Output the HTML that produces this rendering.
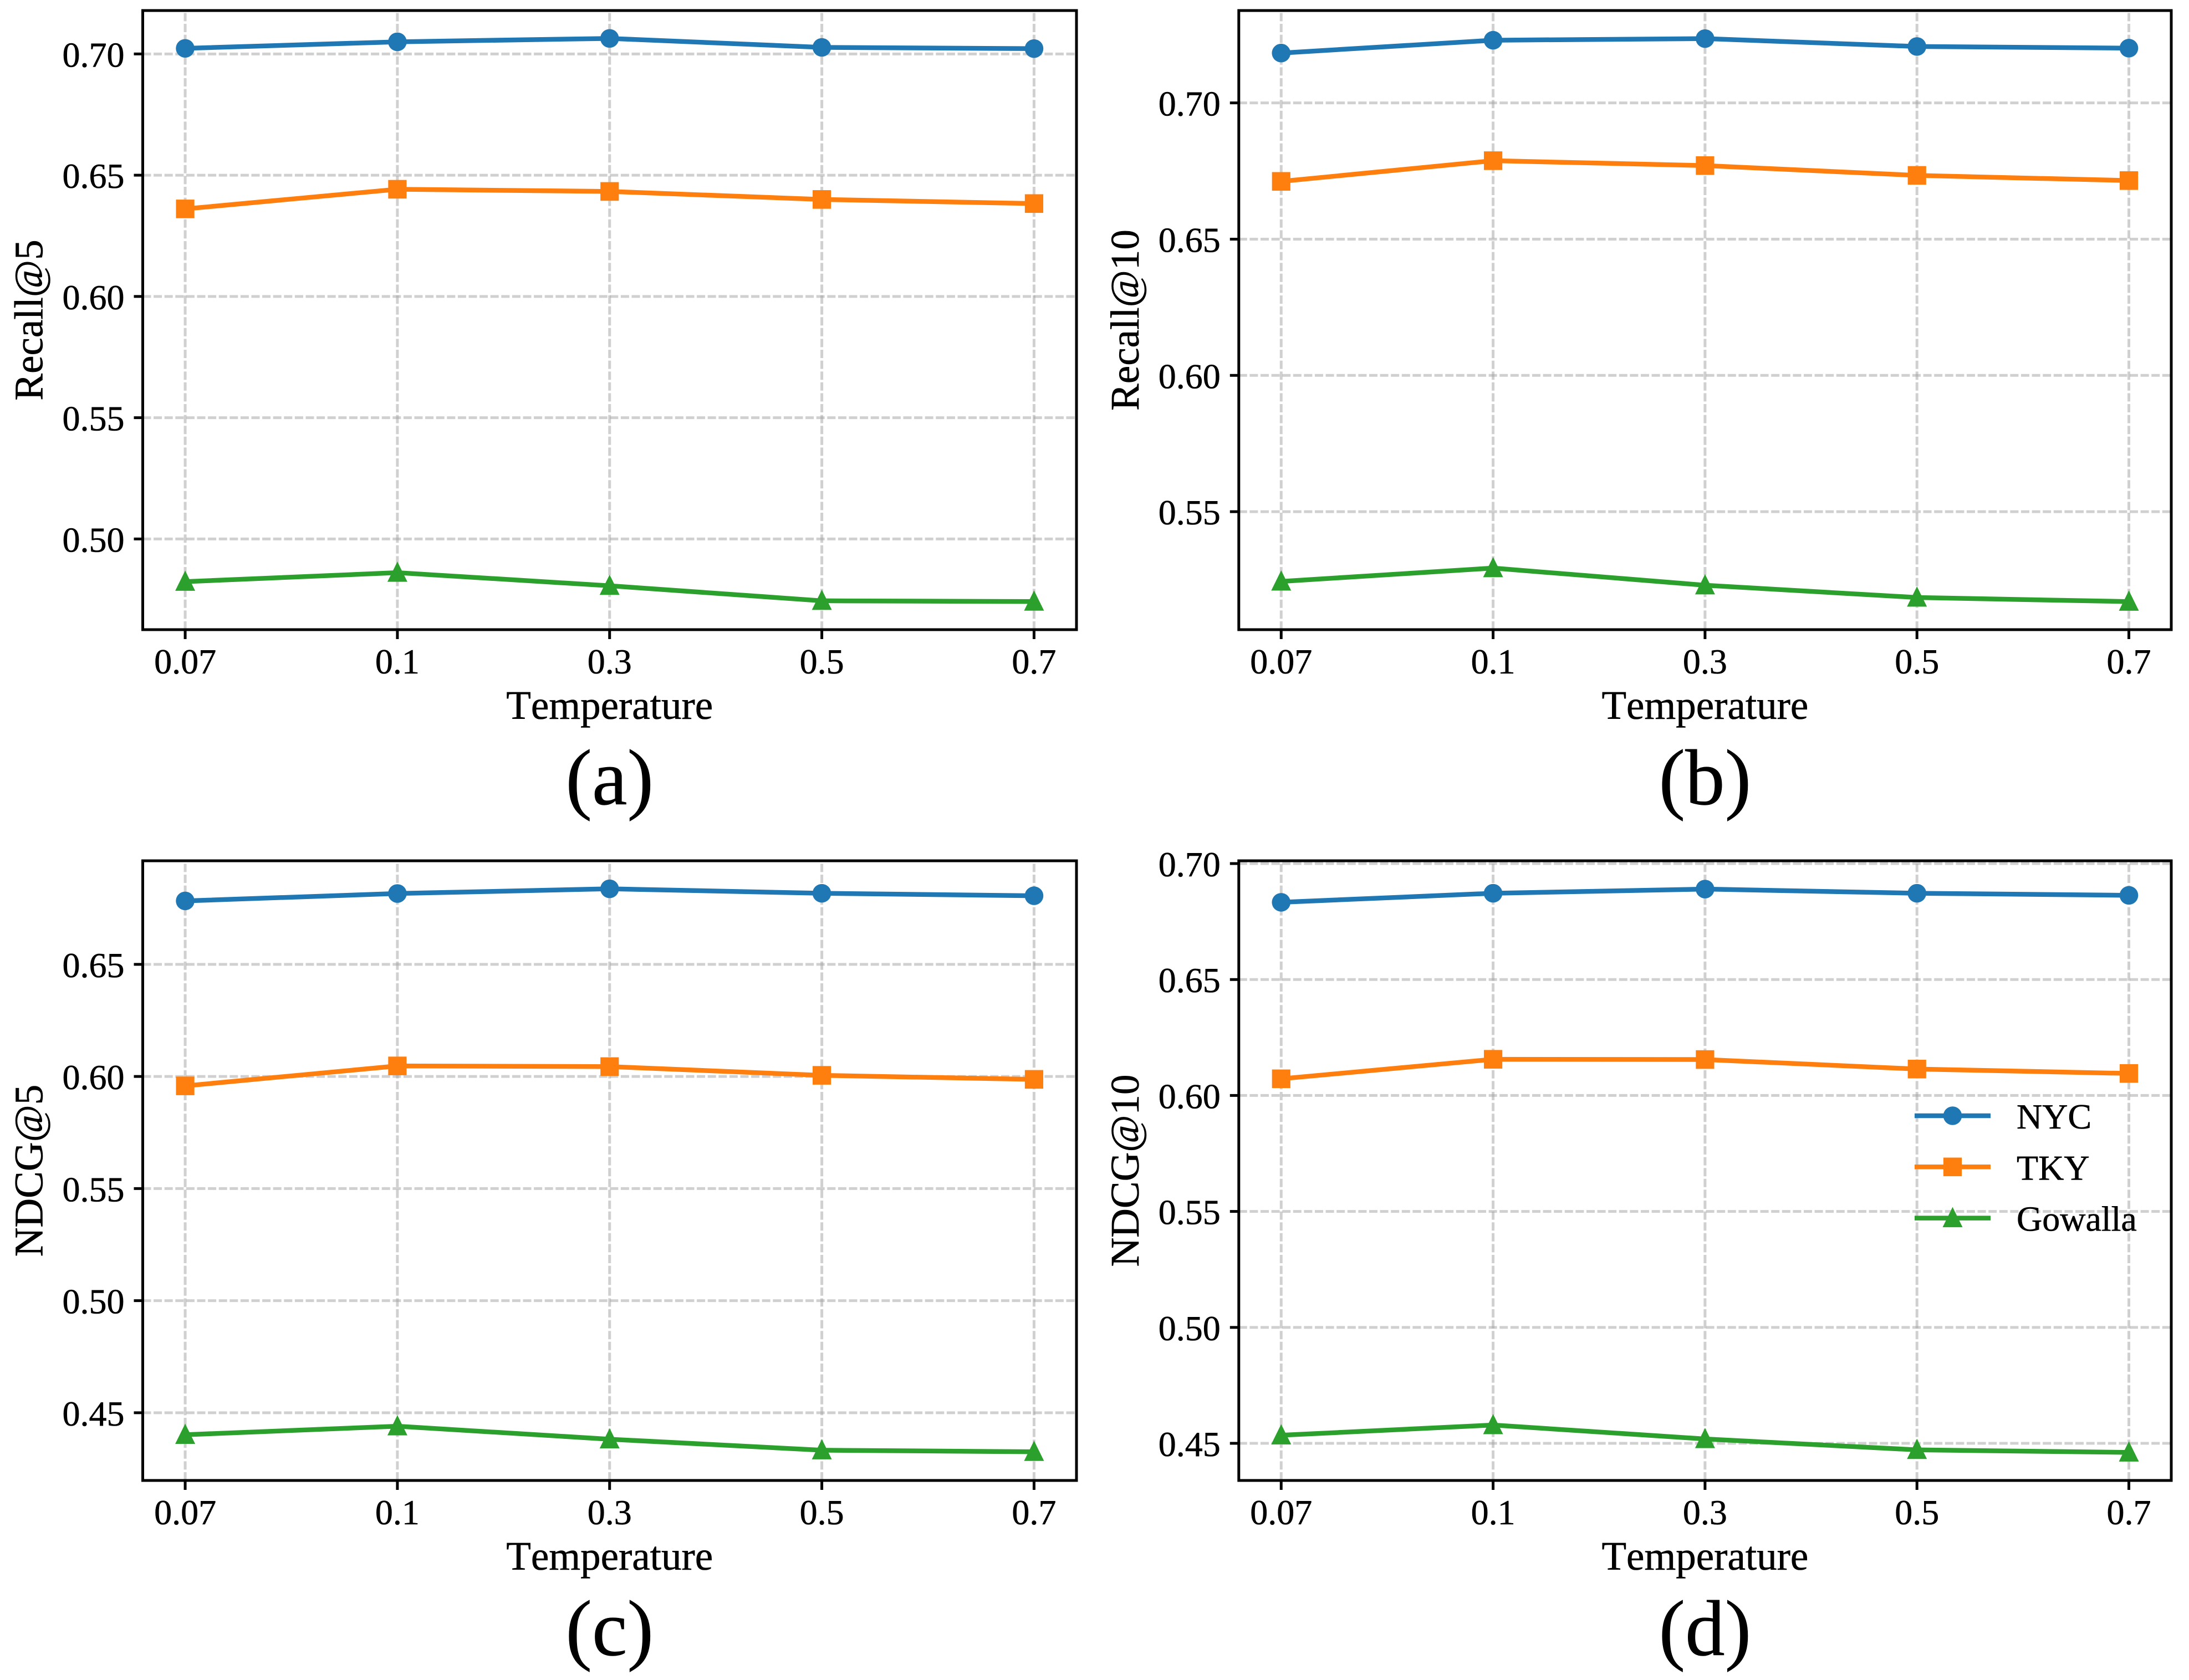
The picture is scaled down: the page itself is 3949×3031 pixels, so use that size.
<!DOCTYPE html>
<html lang="en">
<head>
<meta charset="utf-8">
<title>Temperature sensitivity charts</title>
<style>
  html, body { margin: 0; padding: 0; background: #fff; }
  body { width: 3949px; height: 3031px; overflow: hidden; }
  svg { display: block; }
  text { font-family: "Liberation Serif", "Times New Roman", serif; fill: #000; font-kerning: none; stroke: #000; stroke-width: 0.6px; }
</style>
</head>
<body>
<svg id="figure" xmlns="http://www.w3.org/2000/svg" width="3949" height="3031" viewBox="0 0 3949 3031"></svg>
<script>
// Shared categories and labels
const temperatures = ['0.07', '0.1', '0.3', '0.5', '0.7'];
const seriesNames = ['NYC', 'TKY', 'Gowalla'];

// Panel (a) Recall@5
const recall5Ticks = [0.50, 0.55, 0.60, 0.65, 0.70];
const recall5Limits = [0.4626, 0.7179];
const recall5Nyc = [0.7023, 0.7050, 0.7064, 0.7027, 0.7022];
const recall5Tky = [0.6361, 0.6442, 0.6433, 0.6400, 0.6383];
const recall5Gowalla = [0.4824, 0.4861, 0.4807, 0.4745, 0.4742];

// Panel (b) Recall@10
const recall10Ticks = [0.55, 0.60, 0.65, 0.70];
const recall10Limits = [0.5067, 0.7339];
const recall10Nyc = [0.7183, 0.7230, 0.7236, 0.7207, 0.7201];
const recall10Tky = [0.6712, 0.6788, 0.6770, 0.6734, 0.6715];
const recall10Gowalla = [0.5244, 0.5293, 0.5230, 0.5185, 0.5170];

// Panel (c) NDCG@5
const ndcg5Ticks = [0.45, 0.50, 0.55, 0.60, 0.65];
const ndcg5Limits = [0.4198, 0.6962];
const ndcg5Nyc = [0.6783, 0.6816, 0.6837, 0.6817, 0.6806];
const ndcg5Tky = [0.5958, 0.6047, 0.6044, 0.6005, 0.5987];
const ndcg5Gowalla = [0.4402, 0.4440, 0.4382, 0.4333, 0.4326];

// Panel (d) NDCG@10
const ndcg10Ticks = [0.45, 0.50, 0.55, 0.60, 0.65, 0.70];
const ndcg10Limits = [0.4340, 0.7012];
const ndcg10Nyc = [0.6833, 0.6872, 0.6890, 0.6872, 0.6863];
const ndcg10Tky = [0.6072, 0.6156, 0.6155, 0.6114, 0.6095];
const ndcg10Gowalla = [0.4535, 0.4579, 0.4519, 0.4472, 0.4461];

const NS = 'http://www.w3.org/2000/svg';
const COLORS = ['#1f77b4', '#ff7f0e', '#2ca02c'];
const root = document.getElementById('figure');

function make(parent, tag, props) {
  const node = document.createElementNS(NS, tag);
  for (const key in props) node.setAttribute(key, props[key]);
  parent.appendChild(node);
  return node;
}

function drawMarker(parent, kind, cx, cy, color, label) {
  let el;
  if (kind === 0) {
    el = make(parent, 'circle', { cx: cx, cy: cy, r: 16.8, fill: color });
  } else if (kind === 1) {
    el = make(parent, 'rect', { x: cx - 16.6, y: cy - 16.8, width: 33.2, height: 33.6, fill: color });
  } else {
    el = make(parent, 'polygon', {
      points: (cx) + ',' + (cy - 20) + ' ' + (cx + 18) + ',' + (cy + 16.5) + ' ' + (cx - 18) + ',' + (cy + 16.5),
      fill: color
    });
  }
  
  
}

function drawPanel(cfg) {
  const L = cfg.left, R = cfg.right, T = cfg.top, B = cfg.bottom;
  const panel = make(root, 'g', {});
  
  

  const unit = (R - L) / 4.4;
  const xScale = function (i) { return L + (i + 0.2) * unit; };
  const yScale = function (v) {
    return B - (v - cfg.limits[0]) / (cfg.limits[1] - cfg.limits[0]) * (B - T);
  };

  // Grid
  const grid = make(panel, 'g', { stroke: '#a1a1a1', 'stroke-opacity': 0.5, 'stroke-width': 5, 'stroke-dasharray': '15 4.6', fill: 'none' });
  
  
  cfg.ticks.forEach(function (t) {
    const line = make(grid, 'line', { x1: L, x2: R, y1: yScale(t), y2: yScale(t) });
    
    
  });
  temperatures.forEach(function (_, i) {
    const line = make(grid, 'line', { x1: xScale(i), x2: xScale(i), y1: B, y2: T });
    
    
  });

  // Series
  cfg.series.forEach(function (values, s) {
    const group = make(panel, 'g', {});
    
    
    const pts = values.map(function (v, i) { return xScale(i) + ',' + yScale(v); }).join(' ');
    const line = make(group, 'polyline', { points: pts, fill: 'none', stroke: COLORS[s], 'stroke-width': 8.5, 'stroke-linejoin': 'round' });
    
    
    values.forEach(function (v, i) {
      drawMarker(group, s, xScale(i), yScale(v), COLORS[s], 'point-' + seriesNames[s].toLowerCase() + '-' + temperatures[i]);
    });
  });

  // Y ticks and labels
  cfg.ticks.forEach(function (t) {
    const y = yScale(t);
    const tick = make(panel, 'line', { x1: L - 16, x2: L, y1: y, y2: y, stroke: '#000', 'stroke-width': 5 });
    
    
    const label = make(panel, 'text', { x: L - 33, y: y + 23, 'text-anchor': 'end', 'font-size': 64 });
    label.textContent = t.toFixed(2);
    
    
  });

  // X ticks and labels
  temperatures.forEach(function (name, i) {
    const x = xScale(i);
    const tick = make(panel, 'line', { x1: x, x2: x, y1: B, y2: B + 17, stroke: '#000', 'stroke-width': 5 });
    
    
    const label = make(panel, 'text', { x: x, y: B + 79, 'text-anchor': 'middle', 'font-size': 64 });
    label.textContent = name;
    
    
  });

  // Frame
  const frame = make(panel, 'rect', { x: L, y: T, width: R - L, height: B - T, fill: 'none', stroke: '#000', 'stroke-width': 5 });
  
  

  // Titles
  const cx = (L + R) / 2, cy = (T + B) / 2;
  const xTitle = make(panel, 'text', { x: cx, y: B + 161, 'text-anchor': 'middle', 'font-size': 73 });
  xTitle.textContent = 'Temperature';
  
  

  const yX = L - 181;
  const yTitle = make(panel, 'text', { x: yX, y: cy, 'text-anchor': 'middle', 'font-size': 73, transform: 'rotate(-90 ' + yX + ' ' + cy + ')' });
  yTitle.textContent = cfg.yTitle;
  
  

  const caption = make(panel, 'text', { x: cx, y: B + 315, 'text-anchor': 'middle', 'font-size': 143 });
  caption.textContent = '(' + cfg.id + ')';
  
  
}

drawPanel({ id: 'a', left: 257.5, right: 1942, top: 19, bottom: 1136, limits: recall5Limits, ticks: recall5Ticks, yTitle: 'Recall@5', series: [recall5Nyc, recall5Tky, recall5Gowalla] });
drawPanel({ id: 'b', left: 2234.8, right: 3917, top: 19, bottom: 1136, limits: recall10Limits, ticks: recall10Ticks, yTitle: 'Recall@10', series: [recall10Nyc, recall10Tky, recall10Gowalla] });
drawPanel({ id: 'c', left: 257.5, right: 1942, top: 1553, bottom: 2671, limits: ndcg5Limits, ticks: ndcg5Ticks, yTitle: 'NDCG@5', series: [ndcg5Nyc, ndcg5Tky, ndcg5Gowalla] });
drawPanel({ id: 'd', left: 2234.8, right: 3917, top: 1553, bottom: 2671, limits: ndcg10Limits, ticks: ndcg10Ticks, yTitle: 'NDCG@10', series: [ndcg10Nyc, ndcg10Tky, ndcg10Gowalla] });

// Legend (panel d)
const legend = make(root, 'g', {});


seriesNames.forEach(function (name, s) {
  const y = 2013 + s * 92.3;
  const entry = make(legend, 'g', {});
  
  
  const key = make(entry, 'line', { x1: 3454, x2: 3591, y1: y, y2: y, stroke: COLORS[s], 'stroke-width': 8.5 });
  
  
  drawMarker(entry, s, 3522.5, y, COLORS[s], 'legend-marker');
  const label = make(entry, 'text', { x: 3638, y: y + 23, 'font-size': 64 });
  label.textContent = name;
  
  
});
</script>
</body>
</html>
